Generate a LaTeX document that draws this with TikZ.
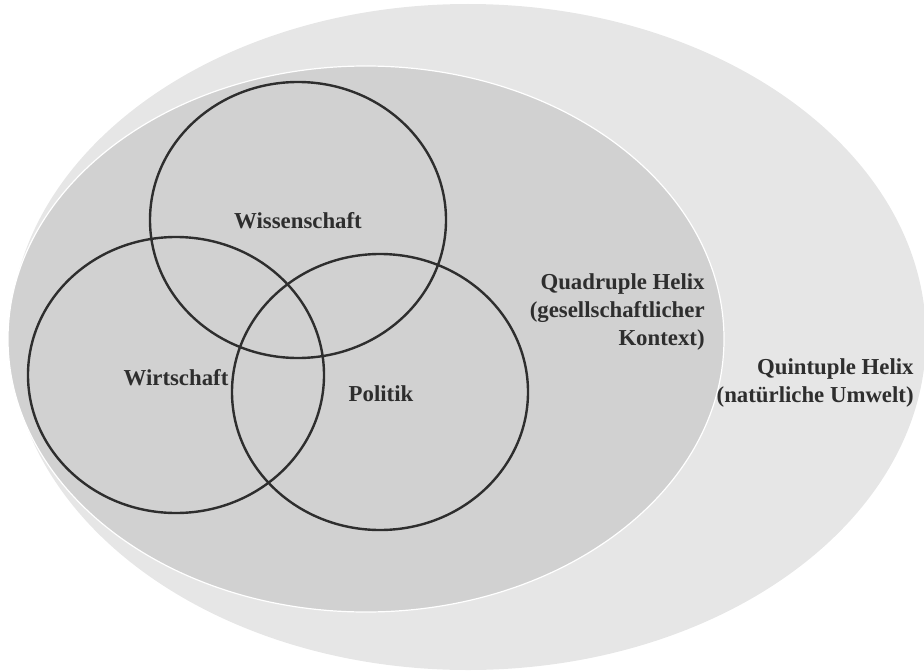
\documentclass[tikz,border=0pt]{standalone}
\usepackage{fontspec}
\setmainfont{Liberation Serif}
\definecolor{umwelt}{HTML}{E6E6E6}
\definecolor{gesell}{HTML}{D1D1D1}
\definecolor{ink}{HTML}{2E2E2E}

\begin{document}
\begin{tikzpicture}[x=0.5pt, y=0.5pt,
    ring/.style={draw=ink, line width=1.2pt},
    lbl/.style={inner sep=0pt, text=ink, font=\fontsize{11.4}{14}\selectfont\bfseries}]
    \useasboundingbox (0,0) rectangle (924,671);
    \fill[umwelt] (468,334) ellipse [x radius=229pt, y radius=166.5pt];
    \filldraw[fill=gesell, draw=white, line width=0.6pt] (366,332) ellipse [x radius=179pt, y radius=136.5pt];
    \draw[ring] (298,451) ellipse [x radius=74pt, y radius=69pt];
    \draw[ring] (176,296) ellipse [x radius=74pt, y radius=69pt];
    \draw[ring] (380,279) ellipse [x radius=74pt, y radius=69pt];
    \node[lbl] (wiss) at (298,450) {Wissenschaft};
    \node[lbl] (wirt) at (176,293) {Wirtschaft};
    \node[lbl] (pol) at (381,277) {Politik};
    \node[lbl, anchor=east, align=right] (quad) at (705,359) {Quadruple Helix\\(gesellschaftlicher\\Kontext)};
    \node[lbl, anchor=east, align=right] (quin) at (914,288) {Quintuple Helix\\(natürliche Umwelt)};
\end{tikzpicture}
\end{document}
